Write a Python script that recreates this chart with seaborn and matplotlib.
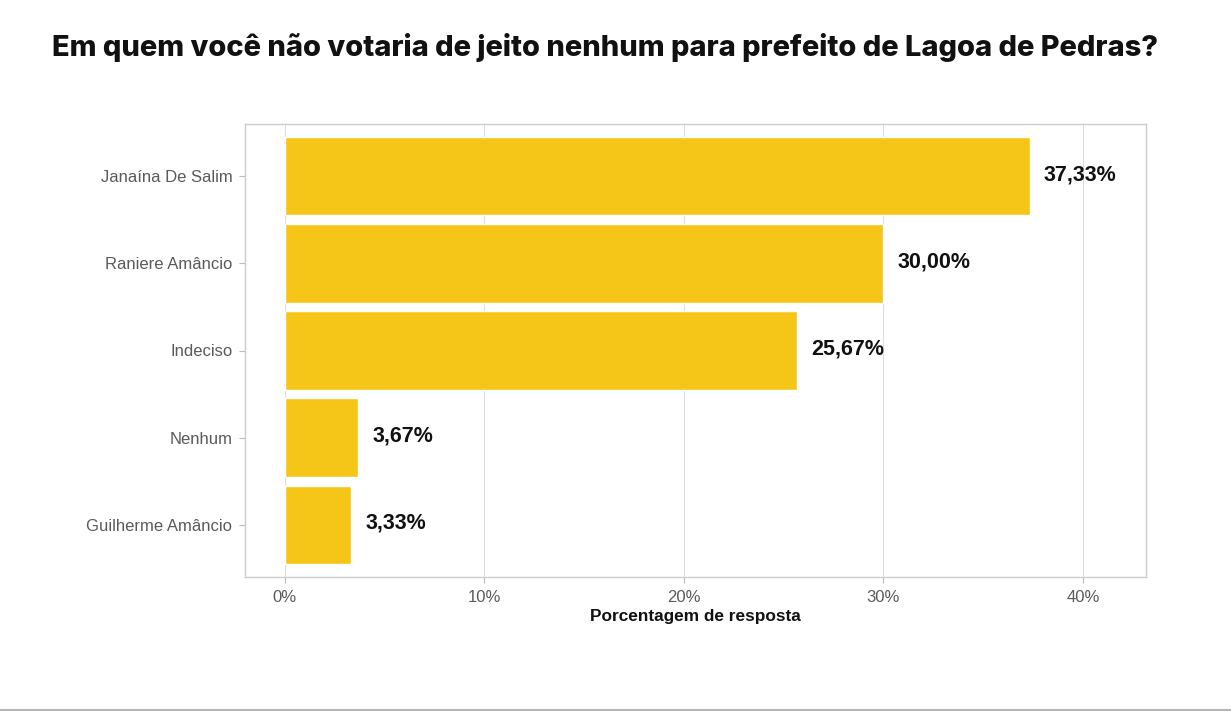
import matplotlib
matplotlib.use('Agg')
import matplotlib.pyplot as plt
from matplotlib.lines import Line2D
import seaborn as sns
import pandas as pd

candidatos = ['Janaína De Salim', 'Raniere Amâncio', 'Indeciso', 'Nenhum', 'Guilherme Amâncio']
percentuais = [37.33, 30.00, 25.67, 3.67, 3.33]
rotulos = ['37,33%', '30,00%', '25,67%', '3,67%', '3,33%']
ticks_x = [0, 10, 20, 30, 40]
ticks_x_rotulos = ['0%', '10%', '20%', '30%', '40%']

df = pd.DataFrame({'candidato': candidatos, 'pct': percentuais})

sns.set_style('white')
plt.rcParams['font.family'] = ['Liberation Sans', 'DejaVu Sans']

fig = plt.figure(figsize=(12.31, 7.11), dpi=100)
W, H = 1231, 711
ax = fig.add_axes([245 / W, (H - 577) / H, (1146 - 245) / W, (577 - 124) / H])

sns.barplot(data=df, x='pct', y='candidato', orient='h', color='#F5C518',
            saturation=1, width=0.9, ax=ax, zorder=2)

for i, (v, t) in enumerate(zip(percentuais, rotulos)):
    ax.text(v + 0.7, i - 0.02, t, va='center', ha='left', fontsize=15.5,
            fontweight='bold', color='#111111', zorder=3)

ax.set_xlim(-2.0, 43.16)
ax.set_ylim(4.6, -0.6)
ax.set_xticks(ticks_x)
ax.set_xticklabels(ticks_x_rotulos)
ax.xaxis.grid(True, color='#DDDDDD', linewidth=0.8, zorder=0)
ax.yaxis.grid(False)
ax.set_axisbelow(True)
for s in ax.spines.values():
    s.set_color('#CCCCCC')
    s.set_linewidth(1.0)
ax.tick_params(axis='both', which='both', length=4, color='#BBBBBB',
               labelsize=12, labelcolor='#5A5A5A', pad=5, bottom=True, left=True)
ax.set_ylabel('')
ax.set_xlabel('Porcentagem de resposta', fontsize=12.4, fontweight='bold',
              color='#111111', labelpad=3)

fig.text(52 / W, 1 - 48 / H,
         'Em quem você não votaria de jeito nenhum para prefeito de Lagoa de Pedras?',
         fontsize=20.9, fontweight='heavy', family=['Inter', 'DejaVu Sans'],
         va='center', ha='left', color='#111111')

fig.add_artist(Line2D([0, 1], [1.5 / H, 1.5 / H], color='#B5B5B5', linewidth=1.5,
                      transform=fig.transFigure))

fig.savefig('out.png', dpi=100)
